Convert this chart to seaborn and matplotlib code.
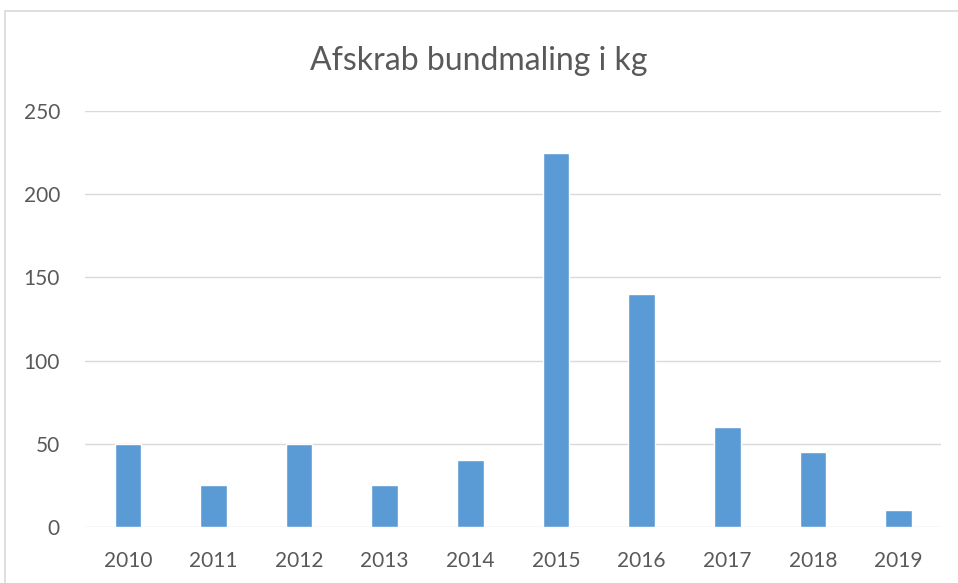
import matplotlib.pyplot as plt
import seaborn as sns
import pandas as pd
from matplotlib.patches import Rectangle

years = ["2010", "2011", "2012", "2013", "2014", "2015", "2016", "2017", "2018", "2019"]
kg = [50, 25, 50, 25, 40, 225, 140, 60, 45, 10]
yticks = [0, 50, 100, 150, 200, 250]

df = pd.DataFrame({"year": years, "kg": kg})

sns.set_style("white")
plt.rcParams["font.family"] = ["Lato", "DejaVu Sans"]

fig = plt.figure(figsize=(9.58, 5.83), dpi=100)
ax = fig.add_axes([0.0887, 0.096, 0.894, 0.7135])

sns.barplot(data=df, x="year", y="kg", color="#5B9BD5", width=0.31,
            saturation=1, ax=ax)

ax.set_ylim(0, 250)
ax.set_yticks(yticks)
ax.yaxis.grid(True, color="#D9D9D9", linewidth=1)
ax.set_axisbelow(True)
for s in ax.spines.values():
    s.set_visible(False)
ax.tick_params(axis="both", length=0, labelsize=15, colors="#595959", pad=18)
ax.tick_params(axis="x", pad=17)
ax.set_xlabel("")
ax.set_ylabel("")
ax.set_xlim(-0.5, 9.5)

fig.text(0.5, 0.895, "Afskrab bundmaling i kg", ha="center", va="center",
         fontsize=23, color="#595959")

# chart frame
fig.patches.append(Rectangle((5 / 958, -0.1), 1.2, 1 - 11 / 583 + 0.1,
                             transform=fig.transFigure, fill=False,
                             edgecolor="#D9D9D9", linewidth=1.2))

fig.savefig("out.png", dpi=100)
